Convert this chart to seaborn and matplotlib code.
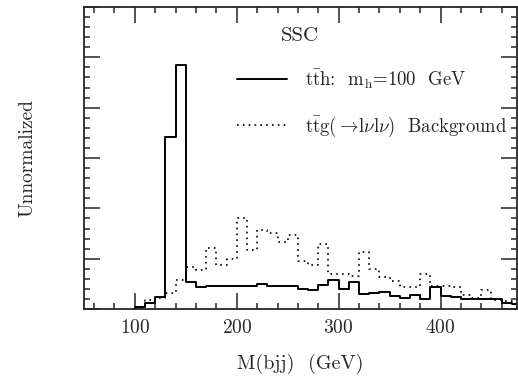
import numpy as np
import pandas as pd
import matplotlib
matplotlib.use('Agg')
import matplotlib.pyplot as plt
from matplotlib.ticker import MultipleLocator, NullFormatter
import seaborn as sns

# bins of 10 GeV, from 100 to 480
edges = list(range(100, 490, 10))
centers = [e + 5 for e in edges[:-1]]

signal = [0.04, 0.12, 0.25, 3.42, 4.85, 0.53, 0.43, 0.45, 0.46, 0.46,
          0.45, 0.46, 0.49, 0.46, 0.46, 0.45, 0.41, 0.39, 0.47, 0.58,
          0.41, 0.54, 0.31, 0.32, 0.35, 0.26, 0.23, 0.28, 0.21, 0.43,
          0.27, 0.25, 0.21, 0.20, 0.21, 0.20, 0.13, 0.10]

background = [0.0, 0.18, 0.23, 0.33, 0.58, 0.83, 0.77, 1.21, 0.87, 1.0,
              1.8, 1.18, 1.58, 1.52, 1.33, 1.48, 0.95, 0.87, 1.3, 0.69,
              0.69, 0.65, 1.13, 0.79, 0.63, 0.55, 0.44, 0.44, 0.70, 0.46,
              0.46, 0.43, 0.28, 0.23, 0.38, 0.18, 0.16, 0.10]

df = pd.DataFrame({'mbjj': centers, 'sig': signal, 'bkg': background})

sns.set_style('ticks')
plt.rcParams['font.family'] = ['cmr10', 'DejaVu Serif']
plt.rcParams['mathtext.fontset'] = 'cm'
plt.rcParams['axes.formatter.use_mathtext'] = True

fig = plt.figure(figsize=(5.18, 3.85), dpi=100)
ax = fig.add_axes([0.162, 0.197, 0.836, 0.785])

sns.histplot(data=df, x='mbjj', weights='sig', bins=edges, element='step',
             fill=False, color='black', linewidth=1.4, ax=ax,
             label=r'$\mathrm{t\bar{t}h}$:  m$_\mathrm{h}$=100  GeV')
sns.histplot(data=df, x='mbjj', weights='bkg', bins=edges, element='step',
             fill=False, color='black', linewidth=1.2, linestyle=(0, (1, 2.5)),
             ax=ax, label=r'$\mathrm{t\bar{t}g}(\rightarrow\!\mathrm{l}\nu\mathrm{l}\nu)$  Background')

ax.set_xlim(50, 475)
ax.set_ylim(0, 6)
ax.xaxis.set_major_locator(MultipleLocator(100))
ax.xaxis.set_minor_locator(MultipleLocator(20))
ax.yaxis.set_major_locator(MultipleLocator(1))
ax.yaxis.set_minor_locator(MultipleLocator(0.2))
ax.yaxis.set_major_formatter(NullFormatter())
ax.tick_params(which='both', direction='in', top=True, right=True, width=1.1)
ax.tick_params(which='major', length=11.5)
ax.tick_params(which='minor', length=4.5)
ax.tick_params(axis='x', labelsize=14, pad=7)
for s in ax.spines.values():
    s.set_linewidth(1.3)
    s.set_visible(True)

ax.set_xlabel('M(bjj)  (GeV)', fontsize=14.5, labelpad=12)
ax.set_ylabel('Unnormalized', fontsize=14, labelpad=31)
ax.text(0.498, 0.905, 'SSC', transform=ax.transAxes, fontsize=15, ha='center', va='center')

ax.legend(loc='upper left', bbox_to_anchor=(0.353, 0.80), frameon=False,
          fontsize=13.5, handlelength=2.67, handletextpad=0.96, labelspacing=1.3,
          borderpad=0, borderaxespad=0)

fig.savefig('out.png', dpi=100)
